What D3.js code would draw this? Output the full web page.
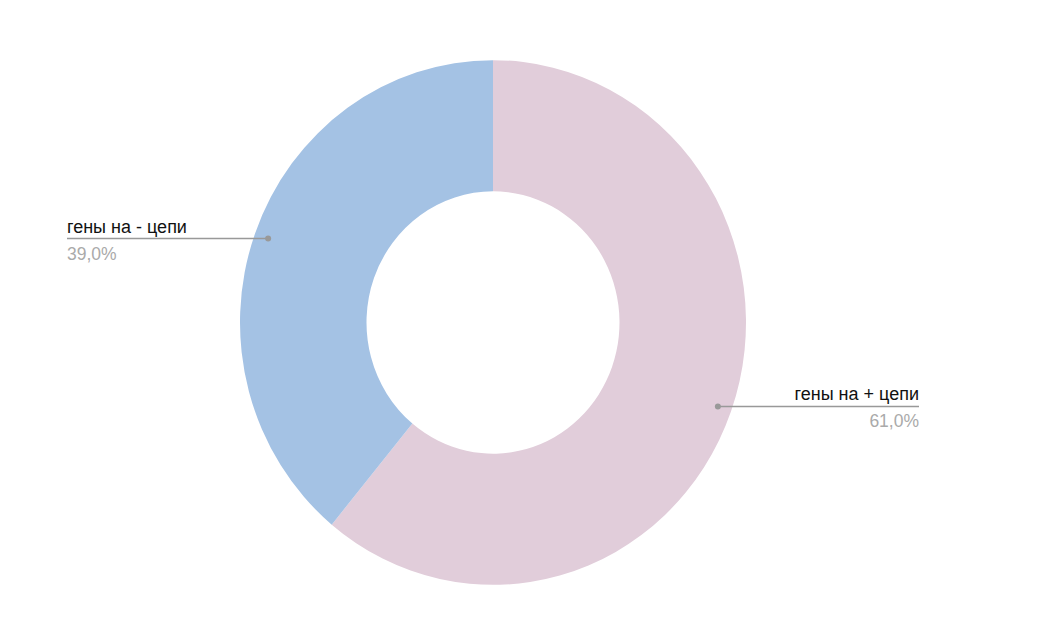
<!DOCTYPE html>
<html>
<head>
<meta charset="utf-8">
<script src="https://cdn.jsdelivr.net/npm/d3@7"></script>
<style>
  body { margin: 0; background: #fff; }
  svg { display: block; font-family: "Liberation Sans", Arial, sans-serif; }
</style>
</head>
<body>
<svg width="1042" height="625"></svg>
<script>
// Slice data
const labels = ['гены на + цепи', 'гены на - цепи']
const values = [61.0, 39.0]
const colors = ['#e1cdda', '#a4c2e4']

const width = 1042, height = 625
const cx = 493, cy = 322.5
const rOuter = 253, rInner = 126.5
const yStretch = 1.037 // picture is slightly taller than wide
const labelOffset = 426

const svg = d3.select('svg')

const pie = d3.pie().sort(null).value(d => d)
const arcs = pie(values)

const arc = d3.arc().innerRadius(rInner).outerRadius(rOuter)
const dotArc = d3.arc().innerRadius(239).outerRadius(239)

const g = svg.append('g')
    .attr('transform', `translate(${cx},${cy}) scale(1,${yStretch})`)

g.selectAll('path')
    .data(arcs)
    .enter()
    .append('path')
    .attr('d', arc)
    .style('fill', (d, i) => colors[i])

// Labels with leader lines
const lab = svg.append('g')

arcs.forEach((d, i) => {
    const c = dotArc.centroid(d)
    const px = cx + c[0]
    const py = cy + c[1] * yStretch
    const right = c[0] > 0
    const ex = right ? cx + labelOffset : cx - labelOffset

    lab.append('line')
        .attr('x1', px).attr('y1', py)
        .attr('x2', ex).attr('y2', py)
        .style('stroke', '#999')
        .style('stroke-width', 1.5)
    lab.append('circle')
        .attr('cx', px).attr('cy', py).attr('r', 3)
        .style('fill', '#999')

    lab.append('text')
        .attr('x', ex).attr('y', py - 6)
        .attr('text-anchor', right ? 'end' : 'start')
        .style('font-size', '18px')
        .style('fill', '#111')
        .text(labels[i])
    lab.append('text')
        .attr('x', ex).attr('y', py + 21)
        .attr('text-anchor', right ? 'end' : 'start')
        .style('font-size', '17.5px')
        .style('fill', '#aaa')
        .text(values[i].toFixed(1).replace('.', ',') + '%')
})
</script>
</body>
</html>
